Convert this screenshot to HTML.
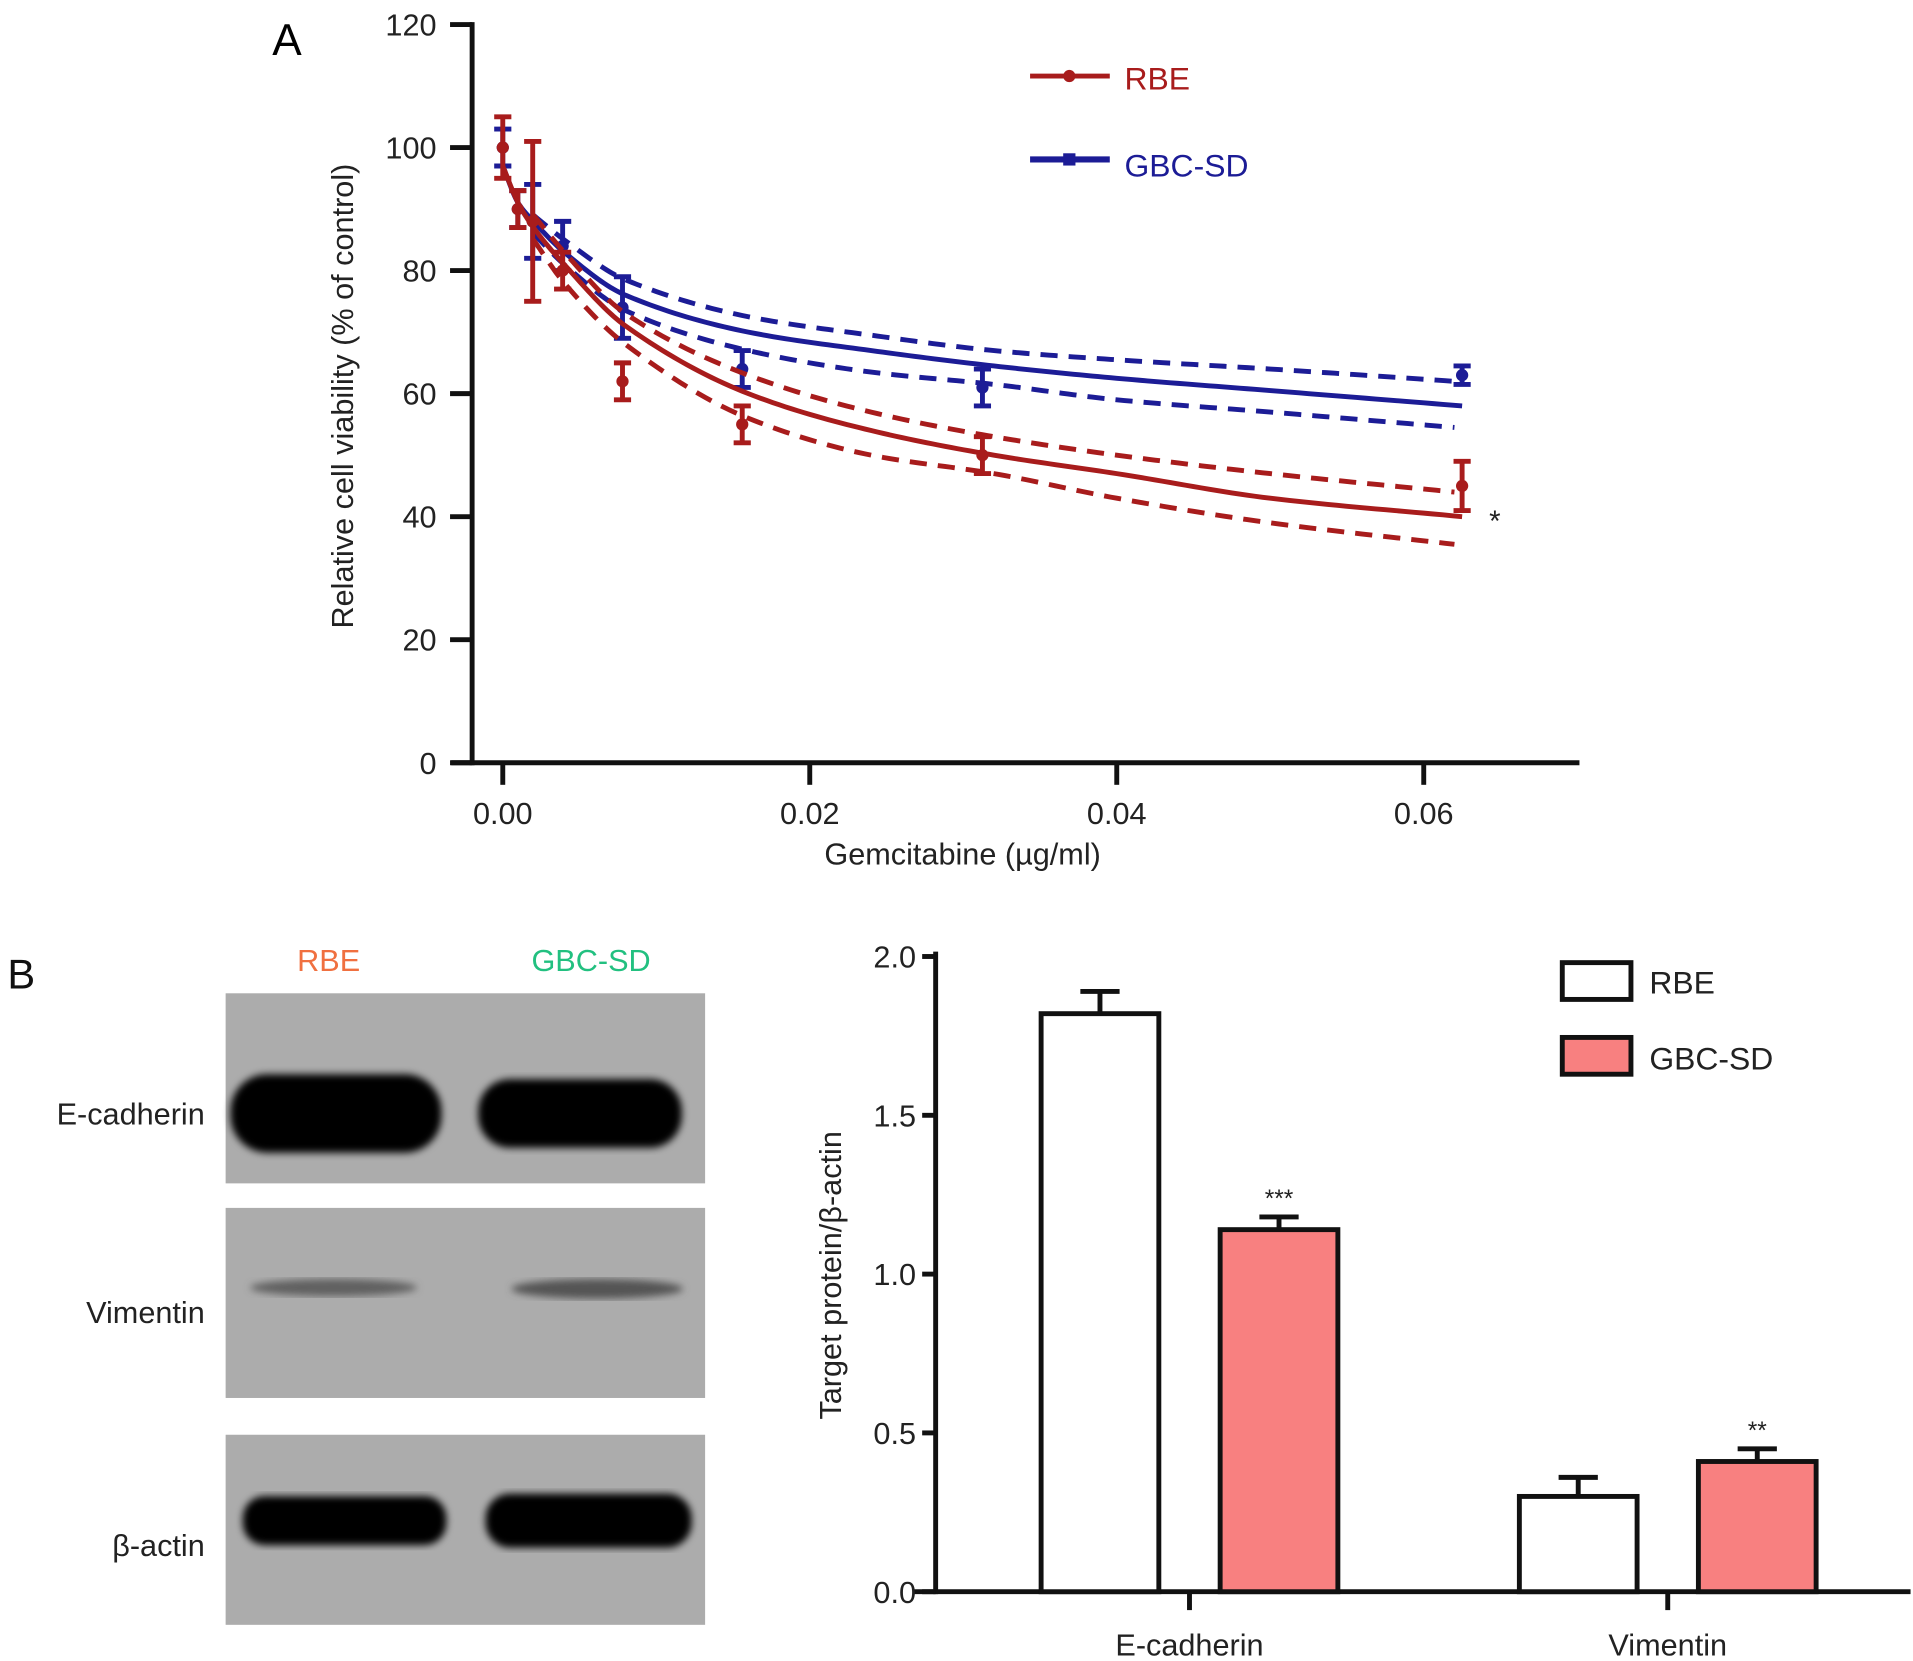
<!DOCTYPE html>
<html><head><meta charset="utf-8"><style>
html,body{margin:0;padding:0;background:#fff;}
svg{display:block;font-family:"Liberation Sans",sans-serif;}
</style></head><body>
<svg id="fig" width="1913" height="1661" viewBox="0 0 1560 1354.5">
<defs><filter id="blur2"><feGaussianBlur stdDeviation="3"/></filter></defs>
<g id="panelA"></g>
<g id="blots"></g>
<g id="panelB"></g>
</svg>
<script>
// ---- Panel A data ----
const doseX = [0, 0.00098, 0.00195, 0.0039, 0.0078, 0.0156, 0.03125, 0.0625];
const rbeMean = [100, 90, 88, 80, 62, 55, 50, 45];
const rbeErr = [5, 3, 13, 3, 3, 3, 3, 4];
const gbcMean = [100, 90, 88, 84, 74, 64, 61, 63];
const gbcErr = [3, 3, 6, 4, 5, 3, 3, 1.5];
const fitX = [0, 0.001, 0.002, 0.004, 0.008, 0.016, 0.024, 0.032, 0.04, 0.05, 0.0625];
const rbeFit = [97, 91, 87, 81, 71, 60, 54, 50, 47, 43, 40];
const gbcFit = [97, 91, 88, 83, 76, 70, 67, 64.5, 62.5, 60.5, 58];
const ciX = [0.002, 0.004, 0.008, 0.016, 0.024, 0.032, 0.04, 0.05, 0.062];
const rbeUpper = [89, 83, 73, 63, 57, 53, 50, 47, 44];
const rbeLower = [85, 78, 68, 56, 50, 47, 43, 39, 35.5];
const gbcUpper = [89, 85, 78.5, 72.5, 69.5, 67, 65.5, 64, 62];
const gbcLower = [86, 81, 73.5, 67, 63.5, 61.5, 59, 57, 54.5];
const yTicksA = [0, 20, 40, 60, 80, 100, 120];
const xTicksA = [0, 0.02, 0.04, 0.06];
const xTickLabelsA = ["0.00", "0.02", "0.04", "0.06"];
// ---- Panel B data ----
const categories = ["E-cadherin", "Vimentin"];
const rbeBar = [1.82, 0.30];
const rbeBarErr = [0.07, 0.06];
const gbcBar = [1.14, 0.41];
const gbcBarErr = [0.04, 0.04];
const sigLabels = ["***", "**"];
const yTicksB = [0, 0.5, 1.0, 1.5, 2.0];

const NS = "http://www.w3.org/2000/svg";
function mk(parent, tag, attrs, text){const e=document.createElementNS(NS,tag);for(const k in attrs)e.setAttribute(k,attrs[k]);if(text!==undefined)e.textContent=text;parent.appendChild(e);return e;}
const RED="#a81c1c", BLUE="#1c1c96";

const xA = v => 410 + v*12517;
const yA = v => 622 - v*5.0167;
const A = document.getElementById('panelA');
let t = mk(A,'text',{x:222,y:45,'font-size':36});


t.textContent='A';
let l = mk(A,'line',{x1:385,y1:18,x2:385,y2:624,stroke:'#111','stroke-width':4});


l = mk(A,'line',{x1:368,y1:622,x2:1288,y2:622,stroke:'#111','stroke-width':4});


yTicksA.forEach(v=>{
  mk(A,'line',{x1:367,y1:yA(v),x2:385,y2:yA(v),stroke:'#111','stroke-width':4});
  const tt=mk(A,'text',{x:356,y:yA(v)+9,'font-size':25,'text-anchor':'end',fill:'#222'},String(v));
  
  
});
xTicksA.forEach((v,i)=>{
  mk(A,'line',{x1:xA(v),y1:622,x2:xA(v),y2:640,stroke:'#111','stroke-width':4});
  const tt=mk(A,'text',{x:xA(v),y:672,'font-size':25,'text-anchor':'middle',fill:'#222'},xTickLabelsA[i]);
  
  
});
t=mk(A,'text',{x:785,y:705,'font-size':25,'text-anchor':'middle',fill:'#222'},'Gemcitabine (µg/ml)');


t=mk(A,'text',{x:0,y:0,'font-size':25,'text-anchor':'middle',fill:'#222',transform:'translate(288,323) rotate(-90)'},'Relative cell viability (% of control)');



// monotone cubic interpolation in data space
function smooth(xs,ys){
  const n=xs.length, d=[], m=new Array(n);
  for(let i=0;i<n-1;i++) d.push((ys[i+1]-ys[i])/(xs[i+1]-xs[i]));
  m[0]=d[0]; m[n-1]=d[n-2];
  for(let i=1;i<n-1;i++){ m[i]=(d[i-1]*d[i]<=0)?0:2/(1/d[i-1]+1/d[i]); }
  let path='M'+xA(xs[0])+','+yA(ys[0]);
  for(let i=0;i<n-1;i++){
    const h=xs[i+1]-xs[i];
    for(let k=1;k<=20;k++){
      const s=k/20, h00=2*s*s*s-3*s*s+1, h10=s*s*s-2*s*s+s, h01=-2*s*s*s+3*s*s, h11=s*s*s-s*s;
      const y=h00*ys[i]+h10*h*m[i]+h01*ys[i+1]+h11*h*m[i+1];
      path+=' L'+xA(xs[i]+s*h).toFixed(2)+','+yA(y).toFixed(2);
    }
  }
  return path;
}
function series(name,color,mean,err,fit,up,lo){
  const g=mk(A,'g',{});
  
  
  let p=mk(g,'path',{d:smooth(fitX,fit),fill:'none',stroke:color,'stroke-width':4});
  
  
  [up,lo].forEach((arr,k)=>{
    const q=mk(g,'path',{d:smooth(ciX,arr),fill:'none',stroke:color,'stroke-width':4,'stroke-dasharray':'14 9'});
    
    
  });
  doseX.forEach((x,i)=>{
    const cx=xA(x), top=yA(mean[i]+err[i]), bot=yA(mean[i]-err[i]);
    const e=mk(g,'path',{d:`M${cx},${top}V${bot}M${cx-7},${top}H${cx+7}M${cx-7},${bot}H${cx+7}`,stroke:color,'stroke-width':4,fill:'none'});
    
    
    const c=mk(g,'circle',{cx:cx,cy:yA(mean[i]),r:5,fill:color});
    
    
  });
}
series('gbc-sd',BLUE,gbcMean,gbcErr,gbcFit,gbcUpper,gbcLower);
series('rbe',RED,rbeMean,rbeErr,rbeFit,rbeUpper,rbeLower);
t=mk(A,'text',{x:1219,y:433,'font-size':24,'text-anchor':'middle',fill:'#222'},'*');


let lg=mk(A,'g',{});


mk(lg,'line',{x1:840,y1:62,x2:905,y2:62,stroke:RED,'stroke-width':4});
mk(lg,'circle',{cx:872,cy:62,r:5,fill:RED});
mk(lg,'text',{x:917,y:73,'font-size':26,fill:RED},'RBE');
lg=mk(A,'g',{});


mk(lg,'line',{x1:840,y1:130,x2:905,y2:130,stroke:BLUE,'stroke-width':5});
mk(lg,'rect',{x:867,y:125,width:10,height:10,fill:BLUE});
mk(lg,'text',{x:917,y:144,'font-size':26,fill:BLUE},'GBC-SD');

// Blots
const Bl=document.getElementById('blots');
t=mk(Bl,'text',{x:6,y:806,'font-size':34,fill:'#111'},'B');


t=mk(Bl,'text',{x:268,y:792,'font-size':25,'text-anchor':'middle',fill:'#f07040'},'RBE');


t=mk(Bl,'text',{x:482,y:792,'font-size':25,'text-anchor':'middle',fill:'#22c080'},'GBC-SD');


const rows=[['E-cadherin',810,965,'e-cadherin',908],['Vimentin',985,1140,'vimentin',1070],['β-actin',1170,1325,'beta-actin',1260]];
rows.forEach(r=>{
  const g=mk(Bl,'g',{});
  
  
  mk(g,'rect',{x:184,y:r[1],width:391,height:r[2]-r[1],fill:'#acacac'});
  mk(g,'text',{x:167,y:r[4]+9,'font-size':25,'text-anchor':'end',fill:'#222'},r[0]);
});
mk(Bl,'rect',{x:188,y:876,width:172,height:64,rx:30,fill:'#050505',filter:'url(#blur2)'});
mk(Bl,'rect',{x:390,y:880,width:166,height:56,rx:26,fill:'#050505',filter:'url(#blur2)'});
mk(Bl,'ellipse',{cx:272,cy:1050,rx:68,ry:7,fill:'#606060',filter:'url(#blur2)'});
mk(Bl,'ellipse',{cx:487,cy:1051,rx:70,ry:8,fill:'#555',filter:'url(#blur2)'});
mk(Bl,'rect',{x:198,y:1220,width:166,height:40,rx:18,fill:'#050505',filter:'url(#blur2)'});
mk(Bl,'rect',{x:396,y:1218,width:168,height:44,rx:20,fill:'#050505',filter:'url(#blur2)'});

// Panel B bar chart
const P=document.getElementById('panelB');
const yB=v=>1298-v*259;
const groupCenters=[970,1360];
l=mk(P,'line',{x1:763,y1:776,x2:763,y2:1300,stroke:'#111','stroke-width':4});


l=mk(P,'line',{x1:745,y1:1298,x2:1558,y2:1298,stroke:'#111','stroke-width':4});


yTicksB.forEach(v=>{
  mk(P,'line',{x1:752,y1:yB(v),x2:763,y2:yB(v),stroke:'#111','stroke-width':4});
  const tt=mk(P,'text',{x:747,y:yB(v)+9,'font-size':25,'text-anchor':'end',fill:'#222'},v.toFixed(1));
  
  
});
t=mk(P,'text',{x:0,y:0,'font-size':25,'text-anchor':'middle',fill:'#222',transform:'translate(686,1040) rotate(-90)'},'Target protein/β-actin');


categories.forEach((c,i)=>{
  const cx=groupCenters[i];
  mk(P,'line',{x1:cx,y1:1298,x2:cx,y2:1313,stroke:'#111','stroke-width':4});
  const tt=mk(P,'text',{x:cx,y:1350,'font-size':25,'text-anchor':'middle',fill:'#222'},c);
  
  
  [[rbeBar,rbeBarErr,'#fff',-73,'rbe'],[gbcBar,gbcBarErr,'#f88080',73,'gbc-sd']].forEach(s=>{
    const bx=cx+s[3]-48, v=s[0][i], e=s[1][i];
    const r=mk(P,'rect',{x:bx,y:yB(v),width:96,height:1298-yB(v),fill:s[2],stroke:'#111','stroke-width':4});
    
    
    const eb=mk(P,'path',{d:`M${bx+48},${yB(v)}V${yB(v+e)}M${bx+32},${yB(v+e)}H${bx+64}`,stroke:'#111','stroke-width':4,fill:'none'});
    
    
  });
  const st=mk(P,'text',{x:cx+73,y:yB(gbcBar[i]+gbcBarErr[i])-8,'font-size':20,'text-anchor':'middle',fill:'#222'},sigLabels[i]);
  
  
});
lg=mk(P,'g',{});


mk(lg,'rect',{x:1274,y:785,width:56,height:30,fill:'#fff',stroke:'#111','stroke-width':4});
mk(lg,'text',{x:1345,y:810,'font-size':26,fill:'#222'},'RBE');
lg=mk(P,'g',{});


mk(lg,'rect',{x:1274,y:846,width:56,height:30,fill:'#f88080',stroke:'#111','stroke-width':4});
mk(lg,'text',{x:1345,y:872,'font-size':26,fill:'#222'},'GBC-SD');
</script>
</body></html>
